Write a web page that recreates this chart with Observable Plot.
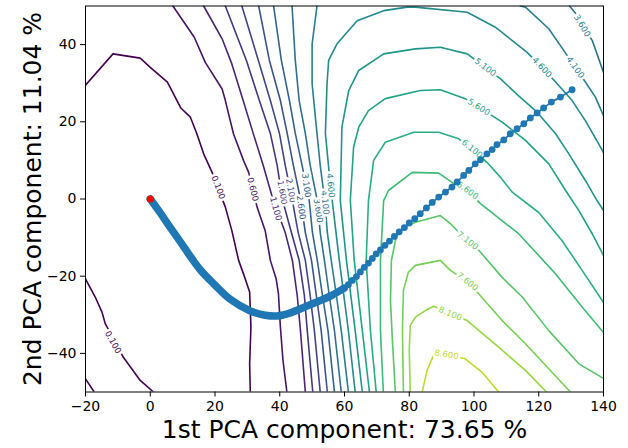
<!DOCTYPE html>
<html><head><meta charset="utf-8">
<script src="https://cdn.jsdelivr.net/npm/d3@7"></script>
<script src="https://cdn.jsdelivr.net/npm/@observablehq/plot@0.6"></script>
<style>body{margin:0;background:#fff} svg{display:block}</style>
</head><body><div id="chart"></div>
<script>
const xTicks = [-20, 0, 20, 40, 60, 80, 100, 120, 140];
const yTicks = [-40, -20, 0, 20, 40];
const xLabel = "1st PCA component: 73.65 %";
const yLabel = "2nd PCA component: 11.04 %";

const levels = [0.1, 0.6, 1.1, 1.6, 2.1, 2.6, 3.1, 3.6, 4.1, 4.6, 5.1, 5.6, 6.1, 6.6, 7.1, 7.6, 8.1, 8.6];

// contour pieces, one array per level, [x, y] in data units
const c0_1 = [
  [[-20,29.5],[-11.5,37.6],[-3.1,36.5],[0,34.1],[5.3,30.3],[9.5,23.5],[12.4,21.2],[14.4,16.9],[16.5,11.7],[19.1,6.9],[23.2,-2.1],[25.2,-8.2],[27.3,-15.9],[28.8,-19.4],[30.7,-24.1],[31.1,-33.2],[30.7,-42.7],[30.9,-50]],
  [[-20,-20.7],[-17.0,-25.4],[-14.9,-29.3],[-13.9,-32.3],[-8.3,-41.0],[-3.1,-47.0],[1.0,-50]],
  [[-20,-46.6],[-17.3,-50]]
];
const c0_6 = [[[7.0,50],[13.6,41.9],[17.0,35.4],[22.2,28.5],[23.2,25.5],[25.7,16.9],[28.8,10.0],[30.4,6.9],[33.0,-2.1],[35.5,-8.2],[37.1,-15.9],[38.9,-20.7],[39.6,-24.6],[40.2,-33.2],[41.0,-41.8],[42.2,-50]]];
const c1_1 = [[[16.5,50],[22.2,41.5],[25.2,35.0],[28.7,25.5],[31.8,17.0],[34.9,8.7],[38.0,-0.4],[41.7,-8.7],[43.9,-15.9],[45.4,-25.0],[46.4,-34.1],[47.9,-50]]];
const c1_6 = [[[23.2,50],[29.7,35.9],[33.7,25.5],[37.1,17.0],[39.2,8.7],[40.9,-0.4],[43.6,-8.7],[46.0,-15.9],[47.6,-25.0],[48.5,-34.1],[50.2,-50]]];
const c2_1 = [[[28.3,50],[33.4,35.9],[37.1,25.5],[39.9,17.0],[41.7,8.7],[43.9,-0.4],[45.7,-8.7],[47.9,-15.9],[49.4,-25.0],[50.7,-34.1],[52.5,-50]]];
const c2_6 = [[[33.5,50],[36.8,35.9],[40.2,25.5],[42.3,17.0],[44.2,8.7],[46.5,-0.4],[47.9,-8.7],[49.8,-15.9],[51.3,-25.0],[52.8,-34.1],[54.7,-50]]];
const c3_1 = [[[38.1,50],[40.5,35.9],[43.0,25.5],[44.8,17.0],[46.9,8.7],[49.1,-0.4],[50.1,-8.7],[51.6,-15.9],[53.2,-25.0],[54.9,-34.1],[56.9,-50]]];
const c3_6 = [
  [[43.8,50],[44.8,35.9],[46.0,25.5],[47.9,17.0],[49.4,8.7],[51.6,-0.4],[52.5,-8.7],[53.8,-15.9],[55.3,-25.0],[56.9,-34.1],[59.0,-50]],
  [[129.5,50],[132.0,47.5],[133.4,44.9],[136.5,41.1],[140,32.8]]
];
const c4_1 = [
  [[51.5,50],[50.0,40.2],[50.0,29.8],[51.5,17.0],[52.5,8.7],[53.9,-0.4],[54.7,-8.7],[55.9,-15.9],[57.5,-25.0],[59.0,-34.1],[61.2,-50]],
  [[114.3,50],[115.9,49.7],[123.1,44.1],[127.7,38.5],[131.3,34.1],[134.4,30.3],[137.5,26.4],[140,21.6]]
];
const c4_6 = [[[63.3,-50],[61.2,-34.1],[58.4,-15.9],[56.2,-0.4],[55.1,8.2],[54.1,17.0],[54.6,29.8],[55.1,35.9],[56.1,37.6],[57.7,40.2],[63.9,46.2],[72.1,48.8],[79.3,49.7],[81.9,49.7],[97.9,48.4],[106.6,44.5],[116.4,38.0],[121.0,34.1],[125.2,30.3],[130.3,25.5],[134.4,20.3],[138.5,14.3],[140,12.0]]];
const c5_1 = [[[65.5,-50],[63.3,-34.1],[60.6,-15.9],[58.7,-0.4],[59.2,18.6],[61.3,28.1],[64.4,33.3],[72.1,37.6],[81.9,38.9],[89.6,39.3],[97.9,37.6],[103.5,34.1],[108.2,31.1],[113.7,26.8],[119.5,22.5],[125.2,16.9],[129.3,11.7],[134.4,4.8],[138.0,-0.4],[140,-3.0]]];
const c5_6 = [[[67.7,-50],[65.5,-34.1],[63.0,-15.9],[61.8,-0.4],[62.8,13.4],[64.4,18.6],[67.4,22.9],[72.6,26.0],[83.4,28.1],[89.6,28.3],[97.3,26.0],[101.5,23.8],[108.7,19.9],[115.9,15.2],[123.1,9.1],[128.3,2.2],[132.4,-3.0],[136.5,-9.0],[140,-14.6]]];
const c6_1 = [[[69.8,-50],[68.0,-34.1],[66.7,-15.9],[67.4,-0.4],[69.0,10.0],[72.6,14.7],[81.4,17.3],[89.1,17.3],[95.3,15.6],[99.4,13.0],[104.0,9.5],[108.2,5.6],[111.9,1.7],[120.0,-3.5],[127.2,-10.8],[133.4,-18.5],[140,-26.8]]];
const c6_6 = [[[72.0,-50],[71.1,-34.1],[71.1,-15.9],[72.1,-0.4],[73.6,2.2],[80.9,6.9],[89.1,6.7],[95.3,3.1],[98.0,2.2],[102.0,-1.2],[113.8,-9.0],[125.2,-19.4],[133.4,-28.0],[140,-34.6]]];
const c7_1 = [[[75.7,-50],[74.8,-36.7],[74.2,-26.3],[74.5,-15.9],[76.0,-9.7],[78.8,-7.1],[81.9,-6.0],[89.6,-4.3],[92.7,-6.4],[98.0,-10.8],[101.5,-13.3],[108.7,-20.3],[114.9,-25.4],[123.1,-34.1],[132.4,-42.7],[140,-46.5]]];
const c7_6 = [[[78.2,-50],[77.9,-34.1],[78.2,-23.7],[79.7,-19.0],[81.9,-17.2],[89.6,-15.9],[92.7,-18.5],[98.0,-21.4],[101.5,-24.6],[108.7,-31.5],[115.9,-37.5],[124.1,-44.9],[129.8,-50]]];
const c8_1 = [[[80.3,-50],[80.0,-39.2],[80.3,-32.8],[81.9,-30.6],[85.0,-28.9],[87.5,-27.8],[92.7,-29.7],[97.9,-31.5],[107.6,-38.4],[115.9,-44.4],[122.4,-50]]];
const c8_6 = [[[84.0,-50],[85.5,-44.4],[87.5,-40.5],[91.5,-40.3],[97.3,-41.4],[102.5,-44.9],[107.6,-50]]];
const contourSets = [c0_1, c0_6, c1_1, c1_6, c2_1, c2_6, c3_1, c3_6, c4_1, c4_6, c5_1, c5_6, c6_1, c6_6, c7_1, c7_6, c8_1, c8_6];

// inline contour labels
const labelLevel = [0.1, 0.1, 0.6, 1.1, 1.6, 2.1, 2.6, 3.1, 3.6, 4.1, 4.6, 5.1, 4.6, 4.1, 3.6, 5.6, 6.1, 6.6, 7.1, 7.6, 8.1, 8.6];
const labelX = [21.0, -11.5, 31.7, 38.8, 40.8, 43.4, 46.6, 48.2, 51.9, 54.0, 55.7, 103.5, 121.0, 131.3, 133.4, 101.5, 99.4, 98.0, 98.0, 98.0, 92.7, 91.5];
const labelY = [3.0, -37.1, 2.5, -2.5, 1.7, 2.2, -2.2, 3.5, -3.0, -0.9, 3.5, 34.1, 34.1, 34.1, 44.9, 23.8, 13.0, 2.2, -10.8, -21.4, -29.7, -40.3];
const labelAngle = [69, 61, 76, 74, 80, 80, 82, 82, 82, 84, 85, 37, 47, 55, 59, 32, 39, 36, 38, 39, 22, 10];

// optimisation trajectory: dense start (overlapping markers) and distinct steps
const bandPath = [[0,0],[3.1,-3.6],[6.2,-7.4],[9.3,-11.1],[12.4,-14.9],[15.5,-18.4],[19.5,-21.9],[24.7,-26.0],[30.9,-29.0],[35.5,-30.1],[39.2,-30.3],[43.3,-29.5],[48.2,-27.8],[52.5,-26.3],[56.2,-24.9],[59.9,-23.1]];
const steps = [[59.9,-23.1],[61.2,-22.2],[62.4,-21.1],[63.7,-20.1],[64.9,-18.9],[66.1,-17.7],[67.4,-16.6],[68.6,-15.4],[69.8,-14.2],[71.1,-13.2],[72.5,-12.0],[73.9,-10.9],[75.4,-9.7],[76.9,-8.5],[78.5,-7.4],[80.0,-6.2],[81.7,-5.1],[83.4,-3.8],[85.3,-2.3],[87.1,-0.9],[89.1,0.5],[91.2,1.8],[93.2,3.1],[94.8,4.4],[96.8,6.1],[98.4,7.4],[100.4,9.1],[102.0,10.2],[104.0,11.7],[105.6,12.8],[107.1,14.1],[109.2,15.3],[111.2,16.9],[113.3,18.2],[115.4,19.5],[117.4,21.0],[119.5,22.3],[121.5,23.6],[123.9,25.1],[126.7,26.4],[130.3,28.3]];
const startPoint = [[0, 0]];

// build tables
const contourRows = [];
let pid = 0;
contourSets.forEach((pieces, i) => {
  pieces.forEach(piece => {
    piece.forEach(([x, y]) => contourRows.push({level: levels[i], piece: pid, x, y}));
    pid++;
  });
});
const labelRows = labelLevel.map((l, i) => ({level: l, x: labelX[i], y: labelY[i], angle: labelAngle[i], text: l.toFixed(3)}));

const blue = "#1f77b4";
const chart = Plot.plot({
  width: 628,
  height: 448,
  marginLeft: 85,
  marginRight: 25,
  marginTop: 5.5,
  marginBottom: 56.5,
  style: {fontFamily: "DejaVu Sans", background: "#fff"},
  x: {domain: [-20, 140]},
  y: {domain: [-50, 50]},
  color: {type: "linear", scheme: "viridis", domain: [0.1, 9.6]},
  marks: [
    Plot.line(contourRows, {x: "x", y: "y", z: "piece", stroke: "level", strokeWidth: 1.6, clip: true}),
    Plot.text(labelRows, {x: "x", y: "y", text: "text", rotate: "angle", fill: "level", stroke: "white", strokeWidth: 5, paintOrder: "stroke", fontSize: 8.5}),
    Plot.line(bandPath, {x: d => d[0], y: d => d[1], stroke: blue, strokeWidth: 7.5, strokeLinecap: "round", curve: "catmull-rom"}),
    Plot.line(steps, {x: d => d[0], y: d => d[1], stroke: blue, strokeWidth: 1.8}),
    Plot.dot(steps, {x: d => d[0], y: d => d[1], r: 3.4, fill: blue}),
    Plot.dot(startPoint, {x: d => d[0], y: d => d[1], r: 3.6, fill: "red"}),
    Plot.frame({stroke: "black", strokeWidth: 1}),
    Plot.axisX({ticks: xTicks, tickSize: 5, tickPadding: 4, fontSize: 14, label: null}),
    Plot.axisY({ticks: yTicks, tickSize: 5, tickPadding: 4, fontSize: 14, label: null}),
    Plot.text([xLabel], {frameAnchor: "bottom", textAnchor: "middle", dy: 46, fontSize: 25, text: d => d, fill: "black"}),
    Plot.text([yLabel], {frameAnchor: "left", textAnchor: "middle", dx: -53, rotate: -90, fontSize: 25, text: d => d, fill: "black"})
  ]
});
document.getElementById("chart").appendChild(chart);
</script>
</body></html>
